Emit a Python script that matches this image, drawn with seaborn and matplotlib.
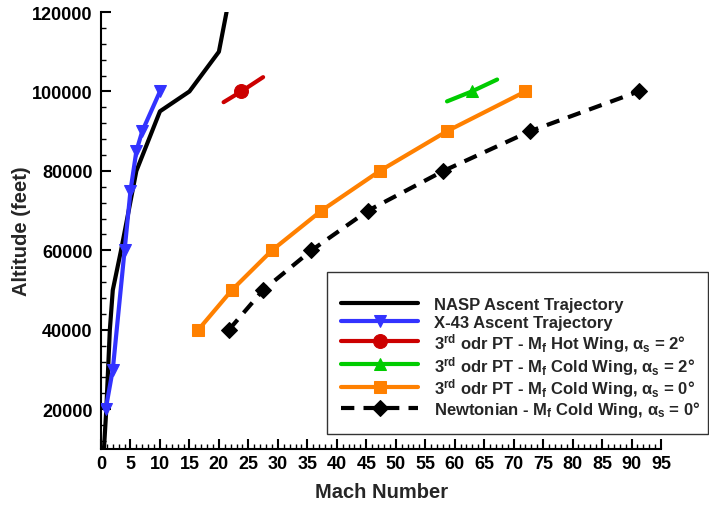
import numpy as np
import matplotlib
matplotlib.use("Agg")
import matplotlib.pyplot as plt
import seaborn as sns
from matplotlib.ticker import MultipleLocator, FixedLocator

# ---------------- data ----------------
nasp_mach = [0.5, 0.9, 1.5, 2.0, 3.4, 6.0, 10.0, 15.0, 20.0, 21.3]
nasp_alt = [10000, 20000, 40000, 50000, 60000, 80000, 95000, 100000, 110000, 120000]

x43_mach = [0.8, 2.0, 4.0, 5.0, 6.0, 7.0, 10.0]
x43_alt = [20000, 30000, 60000, 75000, 85000, 90000, 100000]

hot2_mach = [20.8, 23.8, 27.5]
hot2_alt = [97300, 100000, 103600]

cold2_mach = [58.7, 62.9, 67.2]
cold2_alt = [97500, 100000, 103000]

cold0_mach = [16.5, 22.2, 29.0, 37.4, 47.3, 58.7, 72.0]
cold0_alt = [40000, 50000, 60000, 70000, 80000, 90000, 100000]

newt_mach = [21.7, 27.5, 35.7, 45.3, 58.1, 72.8, 91.2]
newt_alt = [40000, 50000, 60000, 70000, 80000, 90000, 100000]

x_ticks = list(range(0, 96, 5))
y_ticks = [20000, 40000, 60000, 80000, 100000, 120000]

labels = [
    "NASP Ascent Trajectory",
    "X-43 Ascent Trajectory",
    r"$3^{rd}$ odr PT - $M_{f}$ Hot Wing, $\alpha_{s}$ = 2°",
    r"$3^{rd}$ odr PT - $M_{f}$ Cold Wing, $\alpha_{s}$ = 2°",
    r"$3^{rd}$ odr PT - $M_{f}$ Cold Wing, $\alpha_{s}$ = 0°",
    r"Newtonian - $M_{f}$ Cold Wing, $\alpha_{s}$ = 0°",
]

# ---------------- style ----------------
sns.set_style("white")
plt.rcParams["font.family"] = ["Liberation Sans", "DejaVu Sans"]
plt.rcParams["font.weight"] = "bold"
plt.rcParams["axes.labelweight"] = "bold"
plt.rcParams["mathtext.fontset"] = "custom"
plt.rcParams["mathtext.rm"] = "Liberation Sans:bold"
plt.rcParams["mathtext.it"] = "Liberation Sans:bold"
plt.rcParams["mathtext.bf"] = "Liberation Sans:bold"

fig = plt.figure(figsize=(7.09, 5.06), dpi=100)
ax = fig.add_axes([101 / 709, 1 - 450 / 506, 560 / 709, 437 / 506])

lw = 3.0
common = dict(ax=ax, sort=False, estimator=None, linewidth=lw)

sns.lineplot(x=nasp_mach, y=nasp_alt, color="black", label=labels[0], zorder=3, **common)
sns.lineplot(x=x43_mach, y=x43_alt, color="#3333FF", marker="v", markersize=9,
             mec="#3333FF", mfc="#3333FF", label=labels[1], zorder=4, **common)
sns.lineplot(x=hot2_mach, y=hot2_alt, color="#CC0000", marker="o", markersize=10,
             mec="#CC0000", mfc="#CC0000", markevery=[1], label=labels[2], zorder=3, **common)
sns.lineplot(x=cold2_mach, y=cold2_alt, color="#00CC00", marker="^", markersize=9,
             mec="#00CC00", mfc="#00CC00", markevery=[1], label=labels[3], zorder=3, **common)
sns.lineplot(x=cold0_mach, y=cold0_alt, color="#FF8000", marker="s", markersize=8,
             mec="#FF8000", mfc="#FF8000", label=labels[4], zorder=3, **common)
sns.lineplot(x=newt_mach, y=newt_alt, color="black", marker="D", markersize=8,
             mec="black", mfc="black", linestyle=(0, (3.2, 2.2)), label=labels[5], zorder=3, **common)

ax.set_xlim(0, 95)
ax.set_ylim(10000, 120000)
ax.xaxis.set_major_locator(FixedLocator(x_ticks))
ax.xaxis.set_minor_locator(MultipleLocator(1))
ax.yaxis.set_major_locator(FixedLocator(y_ticks))
ax.yaxis.set_minor_locator(MultipleLocator(4000))
ax.set_xticklabels([str(v) for v in x_ticks])
ax.set_yticklabels([str(v) for v in y_ticks])

for s in ["top", "right"]:
    ax.spines[s].set_visible(False)
for s in ["left", "bottom"]:
    ax.spines[s].set_linewidth(1.5)
    ax.spines[s].set_color("black")

ax.tick_params(axis="both", which="both", bottom=True, left=True, top=False, right=False)
ax.tick_params(axis="both", which="major", direction="in", length=7, width=1.5,
               labelsize=13, colors="black")
ax.tick_params(axis="both", which="minor", direction="in", length=3.5, width=1.0, colors="black")
ax.tick_params(axis="y", which="major", pad=6)
ax.tick_params(axis="x", which="major", pad=4)
for t in ax.get_xticklabels() + ax.get_yticklabels():
    t.set_fontweight("bold")

ax.set_xlabel("Mach Number", fontsize=14.5, fontweight="bold")
ax.set_ylabel("Altitude (feet)", fontsize=14.5, fontweight="bold")
ax.xaxis.set_label_coords((382 - 101) / 560, (450 - 483) / 437)
ax.yaxis.set_label_coords((31 - 101) / 560, (450 - 231) / 437)

leg = ax.legend(loc="upper left",
                bbox_to_anchor=(327 / 709, 1 - 432 / 506, 381 / 709, 159 / 506),
                bbox_transform=fig.transFigure, mode="expand", borderaxespad=0,
                frameon=True, fancybox=False, handlelength=4.6, handleheight=1.22,
                handletextpad=1.0, labelspacing=0.0, borderpad=0.85,
                title=" ", title_fontsize=7,
                prop={"weight": "bold", "size": 12})
leg.get_frame().set_edgecolor("#333333")
leg.get_frame().set_linewidth(1.0)
leg.get_frame().set_alpha(1)
for col in leg._legend_handle_box.get_children():
    for row in col.get_children():
        row.align = "center"

fig.savefig("out.png", dpi=100)
